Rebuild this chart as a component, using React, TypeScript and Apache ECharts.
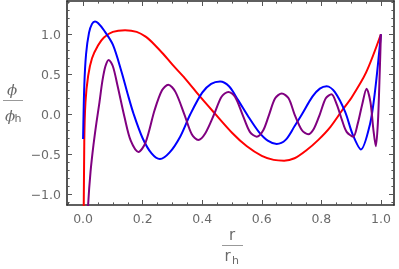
import React, { useEffect, useRef } from "react";
import * as echarts from "echarts";

// ---- data ----
const redX = [0.001, 0.004, 0.008, 0.017, 0.03, 0.05, 0.07, 0.1, 0.141, 0.18, 0.21, 0.24, 0.27, 0.3, 0.342, 0.393, 0.44, 0.5, 0.55, 0.6, 0.64, 0.675, 0.71, 0.75, 0.79, 0.83, 0.87, 0.9, 0.95, 1.0];
const redY = [-2.0, -0.35, 0.15, 0.48, 0.7, 0.86, 0.96, 1.03, 1.05, 1.03, 0.97, 0.87, 0.75, 0.62, 0.45, 0.22, 0.02, -0.23, -0.4, -0.52, -0.57, -0.58, -0.55, -0.45, -0.32, -0.16, 0.05, 0.2, 0.52, 1.0];

const blueX = [0.0, 0.004, 0.01, 0.02, 0.03, 0.04, 0.05, 0.07, 0.1, 0.13, 0.15, 0.17, 0.2, 0.23, 0.258, 0.29, 0.326, 0.36, 0.4, 0.43, 0.46, 0.49, 0.52, 0.555, 0.59, 0.62, 0.65, 0.68, 0.71, 0.735, 0.77, 0.795, 0.818, 0.845, 0.88, 0.905, 0.933, 0.963, 0.98, 1.0];
const blueY = [-0.31, 0.35, 0.75, 1.02, 1.13, 1.16, 1.14, 1.05, 0.87, 0.52, 0.25, 0.0, -0.3, -0.49, -0.56, -0.48, -0.28, 0.0, 0.27, 0.38, 0.41, 0.35, 0.18, -0.03, -0.22, -0.33, -0.37, -0.32, -0.15, 0.0, 0.22, 0.32, 0.35, 0.28, 0.03, -0.25, -0.44, -0.13, 0.28, 1.0];

const purpleX = [0.012, 0.017, 0.025, 0.035, 0.045, 0.055, 0.065, 0.075, 0.086, 0.1, 0.115, 0.14, 0.16, 0.186, 0.21, 0.24, 0.265, 0.286, 0.31, 0.34, 0.365, 0.387, 0.41, 0.44, 0.465, 0.488, 0.51, 0.535, 0.56, 0.583, 0.605, 0.625, 0.645, 0.667, 0.69, 0.71, 0.735, 0.756, 0.775, 0.795, 0.815, 0.834, 0.852, 0.87, 0.885, 0.907, 0.922, 0.937, 0.952, 0.965, 0.975, 0.983, 0.99, 0.995, 1.0];
const purpleY = [-1.6, -1.13, -0.72, -0.38, -0.1, 0.15, 0.42, 0.6, 0.68, 0.6, 0.37, -0.05, -0.33, -0.47, -0.35, 0.05, 0.3, 0.37, 0.28, 0.0, -0.25, -0.32, -0.24, 0.0, 0.22, 0.28, 0.22, 0.0, -0.22, -0.28, -0.2, 0.0, 0.2, 0.26, 0.2, 0.0, -0.2, -0.25, -0.18, 0.0, 0.2, 0.25, 0.12, -0.08, -0.22, -0.28, -0.12, 0.12, 0.32, 0.15, -0.2, -0.4, -0.1, 0.4, 1.0];

// ---- ticks ----
const xMajorTicks = [0, 0.2, 0.4, 0.6, 0.8, 1.0];
const xMinorTicks = [-0.05, 0.05, 0.1, 0.15, 0.25, 0.3, 0.35, 0.45, 0.5, 0.55, 0.65, 0.7, 0.75, 0.85, 0.9, 0.95];
const yMajorTicks = [-1.0, -0.5, 0.0, 0.5, 1.0];
const yMinorTicks = [-1.1, -0.9, -0.8, -0.7, -0.6, -0.4, -0.3, -0.2, -0.1, 0.1, 0.2, 0.3, 0.4, 0.6, 0.7, 0.8, 0.9, 1.1, 1.2, 1.3, 1.4];
const xRange = [-0.054, 1.044];
const yRange = [-1.134, 1.416];

const FRAME = "#2b2b2b";
const TICK = "#555";
const LABEL = "#6a6a6a";

const zip = (xs: number[], ys: number[]) => xs.map((x, i) => [x, ys[i]]);

const fmt = (v: number) => (v < -1e-9 ? "\u2212" + Math.abs(v).toFixed(1) : Math.abs(v).toFixed(1));

export default function App() {
  const ref = useRef<HTMLDivElement>(null);
  useEffect(() => {
    if (!ref.current) return;
    const chart = echarts.init(ref.current, undefined, { renderer: "svg" });

    const axisBase = (
      dim: "x" | "y",
      position: string,
      ticks: number[],
      major: boolean,
      showLine: boolean,
      labels: boolean
    ) => ({
      type: "value",
      position,
      min: dim === "x" ? xRange[0] : yRange[0],
      max: dim === "x" ? xRange[1] : yRange[1],
      axisLine: { show: showLine, onZero: false, lineStyle: { color: FRAME, width: 1.6 } },
      axisTick: {
        show: true,
        inside: true,
        customValues: ticks,
        length: major ? 5 : 2.6,
        lineStyle: { color: TICK, width: 1 },
      },
      axisLabel: {
        show: labels,
        customValues: ticks,
        formatter: fmt,
        color: LABEL,
        fontFamily: "DejaVu Sans",
        fontSize: 12.5,
        margin: dim === "x" ? 7 : 6,
      },
      splitLine: { show: false },
    });

    const mkSeries = (name: string, xs: number[], ys: number[], color: string) => ({
      name,
      type: "line",
      xAxisIndex: 0,
      yAxisIndex: 0,
      data: zip(xs, ys),
      showSymbol: false,
      smooth: 0.3,
      clip: true,
      lineStyle: { color, width: 2 },
      itemStyle: { color },
    });

    chart.setOption({
      animation: false,
      grid: { left: 67, right: 5, top: 1, bottom: 64, containLabel: false },
      xAxis: [
        axisBase("x", "bottom", xMajorTicks, true, true, true),
        axisBase("x", "bottom", xMinorTicks, false, false, false),
        axisBase("x", "top", xMajorTicks, true, true, false),
        axisBase("x", "top", xMinorTicks, false, false, false),
      ],
      yAxis: [
        axisBase("y", "left", yMajorTicks, true, true, true),
        axisBase("y", "left", yMinorTicks, false, false, false),
        axisBase("y", "right", yMajorTicks, true, true, false),
        axisBase("y", "right", yMinorTicks, false, false, false),
      ],
      series: [
        mkSeries("red", redX, redY, "#ff0000"),
        mkSeries("blue", blueX, blueY, "#0000ff"),
        mkSeries("purple", purpleX, purpleY, "#800080"),
      ],
      graphic: [
        { type: "text", x: 12, y: 90, style: { text: "\u03d5", font: "italic 15px 'DejaVu Serif'", fill: LABEL, align: "center", verticalAlign: "middle" } },
        { type: "line", shape: { x1: 3, y1: 100.5, x2: 23, y2: 100.5 }, style: { stroke: "#999", lineWidth: 1 } },
        { type: "text", x: 10, y: 116, style: { text: "\u03d5", font: "italic 15px 'DejaVu Serif'", fill: LABEL, align: "center", verticalAlign: "middle" } },
        { type: "text", x: 18, y: 118, style: { text: "h", font: "11px 'DejaVu Sans'", fill: LABEL, align: "center", verticalAlign: "middle" } },
        { type: "text", x: 232, y: 235, style: { text: "r", font: "15px 'DejaVu Sans'", fill: LABEL, align: "center", verticalAlign: "middle" } },
        { type: "line", shape: { x1: 222, y1: 245.5, x2: 243, y2: 245.5 }, style: { stroke: "#999", lineWidth: 1 } },
        { type: "text", x: 227.5, y: 256, style: { text: "r", font: "15px 'DejaVu Sans'", fill: LABEL, align: "center", verticalAlign: "middle" } },
        { type: "text", x: 235.5, y: 260, style: { text: "h", font: "11px 'DejaVu Sans'", fill: LABEL, align: "center", verticalAlign: "middle" } },
      ],
    });
    return () => chart.dispose();
  }, []);
  return <div ref={ref} style={{ position: "fixed", left: 0, top: 0, width: 399, height: 269 }} />;
}
